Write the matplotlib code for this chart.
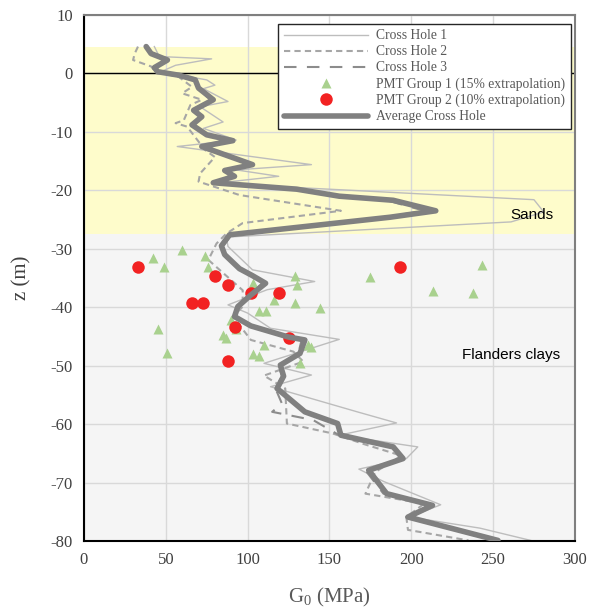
import numpy as np
import matplotlib
matplotlib.use("Agg")
import matplotlib.pyplot as plt

plt.rcParams['font.family'] = ['Liberation Serif', 'DejaVu Serif']
plt.rcParams['mathtext.fontset'] = 'custom'
plt.rcParams['mathtext.rm'] = 'Liberation Serif'
plt.rcParams['axes.unicode_minus'] = False

# Cross hole 1 (depth z in m, shear modulus G0 in MPa)
ch1_z = [4.6, 2.9, 2.5, 1.4, 0.3, -1.1, -2.0, -2.6, -4.8, -5.7, -8.3, -9.4, -11.4, -12.5,
         -15.6, -16.5, -17.6, -18.8, -21.6, -23.7, -25.4, -28.0, -29.6, -33.6, -35.6,
         -37.0, -39.6, -41.0, -43.6, -45.5, -49.6, -51.6, -53.6, -57.9, -59.8, -61.9,
         -63.9, -65.9, -67.7, -69.8, -73.8, -75.9, -77.8, -79.9]
ch1_g = [43, 46, 78, 56, 47, 75, 80, 73, 88, 71, 85, 73, 93, 57,
         139, 93, 119, 80, 275, 281, 261, 87, 88, 103, 141,
         112, 88, 100, 114, 156, 110, 139, 114, 167, 191, 156,
         204, 197, 168, 183, 218, 199, 242, 273]

# Cross hole 2
ch2_z = [4.6, 3.4, 2.3, 1.2, 0.3, -0.6, -2.3, -3.4, -4.5, -5.4, -8.0, -8.5, -9.1, -13.1,
         -14.3, -17.1, -18.5, -20.8, -23.5, -25.6, -27.4, -29.1, -31.9, -37.1, -39.9,
         -41.6, -45.6, -47.6, -49.3, -51.7, -53.9, -59.9, -61.6, -63.5, -65.4, -68.2,
         -71.9, -73.6, -75.9, -78.1, -79.9]
ch2_g = [33, 31, 30, 41, 44, 58, 66, 60, 72, 65, 61, 56, 63, 74,
         80, 71, 70, 95, 157, 97, 87, 81, 76, 97, 97,
         91, 102, 128, 134, 110, 123, 124, 152, 172, 194, 178,
         172, 208, 197, 198, 235]

# Cross hole 3
ch3_z = [4.6, 3.4, 2.3, 1.0, 0.3, -1.1, -2.5, -4.5, -6.3, -7.4, -8.8, -10.5, -11.5, -12.5,
         -15.6, -16.6, -17.6, -18.7, -19.8, -21.0, -21.7, -23.5, -24.6, -27.6, -29.5,
         -31.0, -33.4, -34.6, -35.9, -37.9, -39.9, -41.6, -43.2, -45.1, -45.6, -47.9,
         -49.9, -51.8, -53.9, -56.5, -57.9, -59.3, -61.9, -63.9, -65.9, -67.9, -71.9,
         -73.9, -75.9, -79.9]
ch3_g = [38, 42, 50, 43, 44, 67, 70, 77, 66, 71, 66, 74, 90, 73,
         101, 86, 91, 79, 128, 154, 185, 208, 184, 90, 85,
         87, 94, 102, 109, 101, 95, 92, 101, 124, 133, 131,
         119, 121, 117, 121, 115, 140, 156, 187, 194, 172, 183,
         211, 197, 250]

# Average cross hole
avg_z = [4.6, 3.4, 2.3, 1.0, 0.3, -0.3, -1.1, -2.5, -4.5, -6.3, -7.4, -8.8, -10.5, -11.5,
         -12.5, -15.6, -16.6, -17.6, -18.7, -19.8, -21.0, -21.7, -23.5, -24.6, -27.6,
         -29.5, -31.0, -33.4, -34.6, -35.9, -37.9, -39.9, -41.6, -43.2, -45.1, -45.6,
         -47.9, -49.9, -51.8, -53.9, -57.9, -59.9, -61.9, -63.9, -65.9, -67.9, -71.9,
         -73.9, -75.9, -79.9]
avg_g = [38, 41, 51, 43, 45, 58, 68, 70, 79, 67, 72, 66, 75, 91,
         72, 103, 86, 92, 79, 130, 156, 189, 215, 187, 89,
         84, 86, 95, 103, 111, 102, 94, 92, 102, 125, 135,
         132, 120, 122, 118, 135, 155, 157, 189, 195, 174, 185,
         213, 198, 253]

# PMT group 1 (15% extrapolation)
pmt1_g = [42, 60, 49, 74, 76, 103, 129, 130, 116, 129, 144, 107, 111, 45, 85, 87,
          93, 90, 110, 137, 139, 103, 107, 51, 132, 175, 213, 238, 243]
pmt1_z = [-31.6, -30.2, -33.2, -31.2, -33.2, -35.8, -34.7, -36.2, -38.8, -39.2, -40.2,
          -40.7, -40.7, -43.7, -44.8, -45.3, -43.8, -42.2, -46.4, -46.5, -46.8, -48.0,
          -48.4, -47.8, -49.6, -34.8, -37.2, -37.6, -32.7]

# PMT group 2 (10% extrapolation)
pmt2_g = [33, 80, 88, 102, 119, 66, 73, 92, 125, 88, 193]
pmt2_z = [-33.2, -34.7, -36.2, -37.6, -37.6, -39.2, -39.2, -43.3, -45.2, -49.2, -33.2]

fig = plt.figure(figsize=(5.89, 6.08), dpi=100)
ax = fig.add_axes([0.1426, 0.1102, 0.8334, 0.8651])

ax.axhspan(-27.5, 4.5, color='#fefccb', zorder=0, lw=0)
ax.axhspan(-80, -27.5, color='#f5f5f5', zorder=0, lw=0)
ax.set_axisbelow(True)
ax.grid(True, color='#d9d9d9', lw=1)
ax.axhline(0, color='black', lw=1, zorder=1)

ax.plot(ch1_g, ch1_z, color='#bdbdbd', lw=1, label='Cross Hole 1', zorder=2)
ax.plot(ch2_g, ch2_z, color='#a6a6a6', lw=1.5, dashes=(3, 2), label='Cross Hole 2', zorder=2)
ax.plot(ch3_g, ch3_z, color='#8c8c8c', lw=1.5, dashes=(6, 5), label='Cross Hole 3', zorder=2)
ax.plot(pmt1_g, pmt1_z, ls='none', marker='^', ms=7.5, mec='none', color='#a9d18e',
        label='PMT Group 1 (15% extrapolation)', zorder=3)
ax.plot(pmt2_g, pmt2_z, ls='none', marker='o', ms=9, mec='none', color='#f22222',
        label='PMT Group 2 (10% extrapolation)', zorder=4)
ax.plot(avg_g, avg_z, color='#808080', lw=4, solid_capstyle='round', label='Average Cross Hole', zorder=5)

ax.set_xlim(0, 300)
ax.set_ylim(-80, 10)
ax.set_xticks(np.arange(0, 301, 50))
ax.set_yticks(np.arange(-80, 11, 10))
ax.tick_params(length=0, labelsize=12, colors='#404040', pad=8)

ax.spines['left'].set_color('black')
ax.spines['bottom'].set_color('black')
ax.spines['left'].set_linewidth(1.5)
ax.spines['bottom'].set_linewidth(1.5)
ax.spines['top'].set_color('#7f7f7f')
ax.spines['right'].set_color('#7f7f7f')
ax.spines['top'].set_linewidth(1.5)
ax.spines['right'].set_linewidth(1.5)

ax.set_xlabel(r'G$_{\mathregular{0}}$ (MPa)', fontsize=15, color='#595959', labelpad=13)
ax.set_ylabel('z (m)', fontsize=15, color='#404040', labelpad=14)

ax.text(274, -24.2, 'Sands', fontsize=11, family='Liberation Sans', ha='center', va='center')
ax.text(261, -48.2, 'Flanders clays', fontsize=11, family='Liberation Sans', ha='center', va='center')

leg = ax.legend(loc='upper right', bbox_to_anchor=(0.992, 0.983), borderaxespad=0,
                fontsize=9.8, handlelength=6.2, fancybox=False, framealpha=1,
                edgecolor='#262626', labelspacing=0.22, handletextpad=0.6, borderpad=0.4)
leg.get_frame().set_linewidth(1)
leg.set_zorder(10)
for t in leg.get_texts():
    t.set_color('#595959')

fig.savefig('out.png', dpi=100)
